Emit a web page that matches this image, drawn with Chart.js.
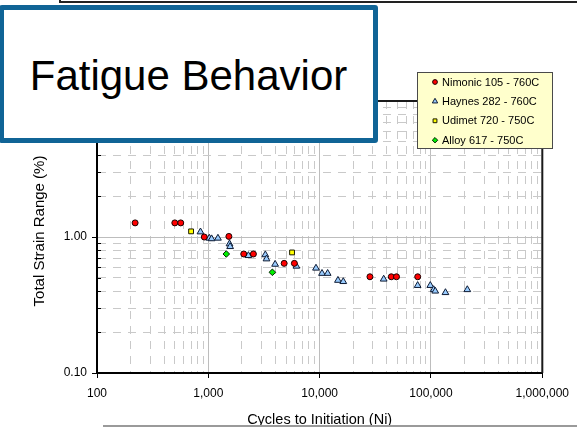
<!DOCTYPE html>
<html>
<head>
<meta charset="utf-8">
<title>Fatigue Behavior</title>
<script src="https://cdn.jsdelivr.net/npm/chart.js@4/dist/chart.umd.min.js"></script>
<style>
  html, body { margin: 0; padding: 0; background: #ffffff; }
  #wrap { position: relative; width: 577px; height: 427px; overflow: hidden;
          font-family: "Liberation Sans", Arial, sans-serif; }
  #chart { position: absolute; left: 0; top: 0; }
  .frame-top { position: absolute; left: 59px; top: 0; width: 518px; height: 1px;
               border-left: 2px solid #222; border-bottom: 2px solid #222; }
  .base-line { position: absolute; left: 103px; top: 425px; width: 474px; height: 2px; background: #9a9a9a; }
  .title-box { position: absolute; left: -1px; top: 5px; width: 369px; height: 128px;
               border: 5px solid #106496; border-radius: 3px; background: #ffffff; }
  .title-text { position: absolute; left: 0; top: 45px; width: 100%; text-align: center;
                font-size: 42px; line-height: 42px; color: #000000; white-space: nowrap; }
</style>
</head>
<body>
<div id="wrap">
  <canvas id="chart" width="577" height="427"></canvas>
  <div class="frame-top"></div>
  <div class="base-line"></div>
  <div class="title-box"><div class="title-text">Fatigue Behavior</div></div>
</div>
<script>
// Series names shown in the legend
const seriesNames = ['Nimonic 105 - 760C', 'Haynes 282 - 760C', 'Udimet 720 - 750C', 'Alloy 617 - 750C'];

// Nimonic 105 at 760C
const nimonicCycles = [220, 500, 565, 920, 1530, 2080, 2540, 4800, 5930, 28300, 44000, 49000, 76000];
const nimonicStrain = [1.27, 1.27, 1.27, 1.00, 1.01, 0.75, 0.75, 0.64, 0.64, 0.51, 0.51, 0.51, 0.51];

// Haynes 282 at 760C
const haynesCycles = [850, 1020, 1070, 1220, 1550, 1570, 2290, 3250, 3330, 3980, 6180, 9270,
                      10500, 11800, 14600, 16300, 37600, 75900, 98600, 105700, 109200, 134900, 212000];
const haynesStrain = [1.09, 0.98, 0.97, 0.98, 0.89, 0.85, 0.73, 0.74, 0.69, 0.63, 0.61, 0.59,
                      0.54, 0.54, 0.48, 0.47, 0.49, 0.44, 0.44, 0.41, 0.40, 0.39, 0.41];

// Udimet 720 at 750C
const udimetCycles = [700, 5650];
const udimetStrain = [1.10, 0.77];

// Alloy 617 at 750C
const alloyCycles = [1450, 3760];
const alloyStrain = [0.75, 0.55];

// Axis decades and their labels
const cycleTicks = [100, 1000, 10000, 100000, 1000000];
const cycleTickLabels = ['100', '1,000', '10,000', '100,000', '1,000,000'];
const strainTicks = [0.1, 1, 10];
const strainTickLabels = ['0.10', '1.00', '10.00'];

const FONT = '"Liberation Sans", Arial, sans-serif';

function pairs(xs, ys) { return xs.map((x, i) => ({ x: x, y: ys[i] })); }

// Full log ticks: every 1..9 multiple inside each decade
function logTicks(decades) {
  const out = [];
  for (let d = 0; d < decades.length - 1; d++) {
    out.push({ value: decades[d], major: true });
    for (let m = 2; m <= 9; m++) out.push({ value: decades[d] * m, major: false });
  }
  out.push({ value: decades[decades.length - 1], major: true });
  return out;
}
function isMajor(ctx) { return ctx && ctx.tick && ctx.tick.major; }

const markerStyles = [
  { pointStyle: 'circle',   backgroundColor: '#ff0000', borderColor: '#1a0000', radius: 3.0, legendRadius: 2.4 },
  { pointStyle: 'triangle', backgroundColor: '#99ccff', borderColor: '#0d1a33', radius: 3.9, legendRadius: 3.1 },
  { pointStyle: 'rect',     backgroundColor: '#ffff00', borderColor: '#1a1a00', radius: 3.4, legendRadius: 2.7 },
  { pointStyle: 'rectRot',  backgroundColor: '#00ee00', borderColor: '#002200', radius: 3.3, legendRadius: 2.7 }
];
const seriesData = [
  pairs(nimonicCycles, nimonicStrain),
  pairs(haynesCycles, haynesStrain),
  pairs(udimetCycles, udimetStrain),
  pairs(alloyCycles, alloyStrain)
];

const datasets = seriesNames.map((name, i) => ({
  label: name,
  data: seriesData[i],
  pointStyle: markerStyles[i].pointStyle,
  backgroundColor: markerStyles[i].backgroundColor,
  borderColor: markerStyles[i].borderColor,
  pointRadius: markerStyles[i].radius,
  pointBorderWidth: 1,
  showLine: false
}));

// Plot frame (top and right edges) plus short inner ticks on the strain axis
const framePlugin = {
  id: 'frame',
  beforeDatasetsDraw(chart) {
    const { ctx, chartArea: a, scales } = chart;
    ctx.save();
    ctx.strokeStyle = '#1a1a1a';
    ctx.lineWidth = 2;
    ctx.beginPath();
    ctx.moveTo(a.left, a.top); ctx.lineTo(a.right, a.top);
    ctx.moveTo(a.right, a.top); ctx.lineTo(a.right, a.bottom);
    ctx.stroke();
    ctx.strokeStyle = '#000000';
    ctx.lineWidth = 1;
    ctx.beginPath();
    scales.y.ticks.forEach(t => {
      if (t.major) return;
      const py = Math.round(scales.y.getPixelForValue(t.value)) + 0.5;
      ctx.moveTo(a.left, py); ctx.lineTo(a.left + 4, py);
    });
    ctx.stroke();
    ctx.restore();
  }
};

// Vertical axis title and the boxed legend
const overlayPlugin = {
  id: 'overlay',
  afterDraw(chart) {
    const { ctx } = chart;
    ctx.save();
    ctx.fillStyle = '#000000';
    ctx.font = '15px ' + FONT;
    ctx.textAlign = 'center';
    ctx.textBaseline = 'middle';
    ctx.translate(40, 231);
    ctx.rotate(-Math.PI / 2);
    ctx.fillText('Total Strain Range (%)', 0, 0);
    ctx.restore();

    ctx.save();
    ctx.fillStyle = '#ffffcc';
    ctx.fillRect(417.5, 72.5, 135, 76);
    ctx.strokeStyle = '#4a4a4a';
    ctx.lineWidth = 1;
    ctx.strokeRect(417.5, 72.5, 135, 76);
    ctx.font = '11px ' + FONT;
    ctx.textAlign = 'left';
    ctx.textBaseline = 'middle';
    chart.data.datasets.forEach((ds, i) => {
      const y = 82 + i * 19.4;
      const st = markerStyles[i];
      ctx.fillStyle = st.backgroundColor;
      ctx.strokeStyle = st.borderColor;
      ctx.lineWidth = 1;
      Chart.helpers.drawPoint(ctx, { pointStyle: st.pointStyle, radius: st.legendRadius, borderWidth: 1, rotation: 0 }, 435, y);
      ctx.fillStyle = '#000000';
      ctx.fillText(ds.label, 442, y + 0.5);
    });
    ctx.restore();
  }
};

new Chart(document.getElementById('chart'), {
  type: 'scatter',
  data: { datasets: datasets },
  plugins: [framePlugin, overlayPlugin],
  options: {
    responsive: false,
    animation: false,
    devicePixelRatio: 1,
    layout: { padding: { top: 101, right: 28, left: 0, bottom: 0 } },
    plugins: { legend: { display: false }, tooltip: { enabled: false } },
    scales: {
      x: {
        type: 'logarithmic',
        min: cycleTicks[0],
        max: cycleTicks[cycleTicks.length - 1],
        afterBuildTicks(scale) { scale.ticks = logTicks(cycleTicks); },
        afterFit(scale) { scale.height = 54; },
        ticks: {
          autoSkip: false,
          maxRotation: 0,
          padding: 8,
          color: '#000000',
          font: { family: FONT, size: 12 },
          callback(value) {
            const i = cycleTicks.indexOf(value);
            return i >= 0 ? cycleTickLabels[i] : '';
          }
        },
        grid: {
          color: ctx => isMajor(ctx) ? '#bdbdbd' : '#c9c9c9',
          lineWidth: 1,
          drawTicks: true,
          tickLength: 5,
          tickWidth: 1,
          tickColor: ctx => isMajor(ctx) ? '#000000' : 'rgba(0,0,0,0)'
        },
        border: {
          color: '#000000',
          width: 2,
          dash: ctx => (ctx.tick && !ctx.tick.major) ? [8, 7] : []
        },
        title: {
          display: true,
          text: 'Cycles to Initiation (Ni)',
          color: '#000000',
          font: { family: FONT, size: 14.5, lineHeight: '14px' },
          padding: { top: 0, bottom: 0 }
        }
      },
      y: {
        type: 'logarithmic',
        min: strainTicks[0],
        max: strainTicks[strainTicks.length - 1],
        afterBuildTicks(scale) { scale.ticks = logTicks(strainTicks); },
        afterFit(scale) { scale.width = 97; },
        ticks: {
          autoSkip: false,
          padding: 5,
          color: '#000000',
          font: { family: FONT, size: 12 },
          callback(value) {
            const i = strainTicks.indexOf(value);
            return i >= 0 ? strainTickLabels[i] : '';
          }
        },
        grid: {
          color: ctx => isMajor(ctx) ? '#bdbdbd' : '#c9c9c9',
          lineWidth: 1,
          drawTicks: true,
          tickLength: 5,
          tickWidth: 1,
          tickColor: ctx => isMajor(ctx) ? '#000000' : 'rgba(0,0,0,0)'
        },
        border: {
          color: '#000000',
          width: 2,
          dash: ctx => (ctx.tick && !ctx.tick.major) ? [8, 7] : []
        }
      }
    }
  }
});
</script>
</body>
</html>
